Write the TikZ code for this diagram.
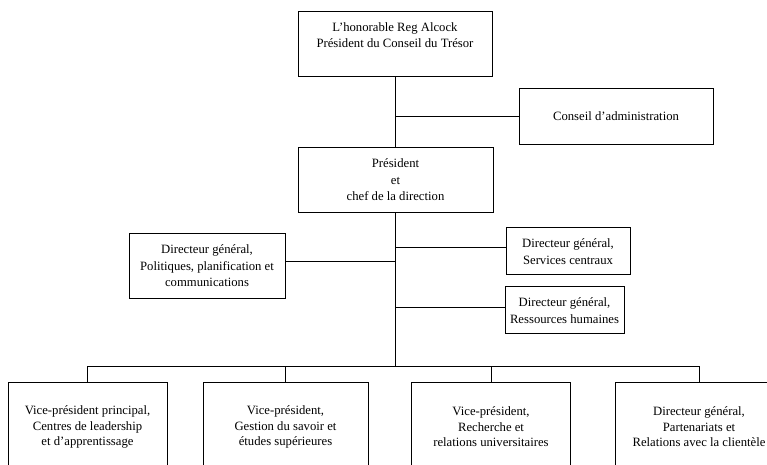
\documentclass[tikz,border=0pt]{standalone}
\usepackage{fontspec}
\setmainfont{Liberation Serif}
\begin{document}
\begin{tikzpicture}[x=1pt,y=-1pt,
  box/.style={draw, line width=0.9pt, rectangle, inner sep=2pt, align=center,
    font=\fontsize{12.7}{16.5}\selectfont},
  vbox/.style={box, font=\fontsize{12.7}{15.5}\selectfont, minimum height=90pt},
  conn/.style={line width=0.9pt}]
\clip (0,0) rectangle (767,464);
\useasboundingbox (0,0) rectangle (767,464);
% boxes
\node[box, minimum width=194pt, minimum height=65pt] (top) at (395,43.5)
  {L’honorable Reg Alcock\\Président du Conseil du Trésor\\~};
\node[box, minimum width=194pt, minimum height=56pt] (conseil) at (616,116)
  {Conseil d’administration};
\node[box, minimum width=195pt, minimum height=65pt] (pres) at (395.5,180)
  {Président\\et\\chef de la direction};
\node[box, minimum width=156pt, minimum height=65pt] (pol) at (207,266)
  {Directeur général,\\Politiques, planification et\\communications};
\node[box, minimum width=124pt, minimum height=47pt] (serv) at (568,251.4)
  {Directeur général,\\Services centraux};
\node[box, minimum width=119pt, minimum height=47pt] (rh) at (564.5,310.4)
  {Directeur général,\\Ressources humaines};
\node[vbox, minimum width=159pt] (b1) at (87.5,427)
  {Vice-président principal,\\Centres de leadership\\et d’apprentissage};
\node[vbox, minimum width=165pt] (b2) at (285.5,427)
  {Vice-président,\\Gestion du savoir et\\études supérieures};
\node[vbox, minimum width=159pt] (b3) at (491,427)
  {Vice-président,\\Recherche et\\relations universitaires};
\node[vbox, minimum width=168pt] (b4) at (699,427)
  {Directeur général,\\Partenariats et\\Relations avec la clientèle};
% connectors
\coordinate (bus) at (395,366);
\draw[conn] (top.south) -- (top.south |- pres.north);
\draw[conn] (top.south |- pres.south) -- (bus);
\draw[conn] (conseil.west) -- (conseil.west -| top.south);
\draw[conn] ([yshift=4.3pt]pol.east) -- ([yshift=4.3pt]pol.east -| top.south);
\draw[conn] ([yshift=3.7pt]serv.west) -- ([yshift=3.7pt]serv.west -| top.south);
\draw[conn] ([yshift=3.4pt]rh.west) -- ([yshift=3.4pt]rh.west -| top.south);
\draw[conn] (b1.north) -- (b1.north |- bus) -- (b4.north |- bus) -- (b4.north);
\draw[conn] (b2.north) -- (b2.north |- bus);
\draw[conn] (b3.north) -- (b3.north |- bus);
\end{tikzpicture}
\end{document}
